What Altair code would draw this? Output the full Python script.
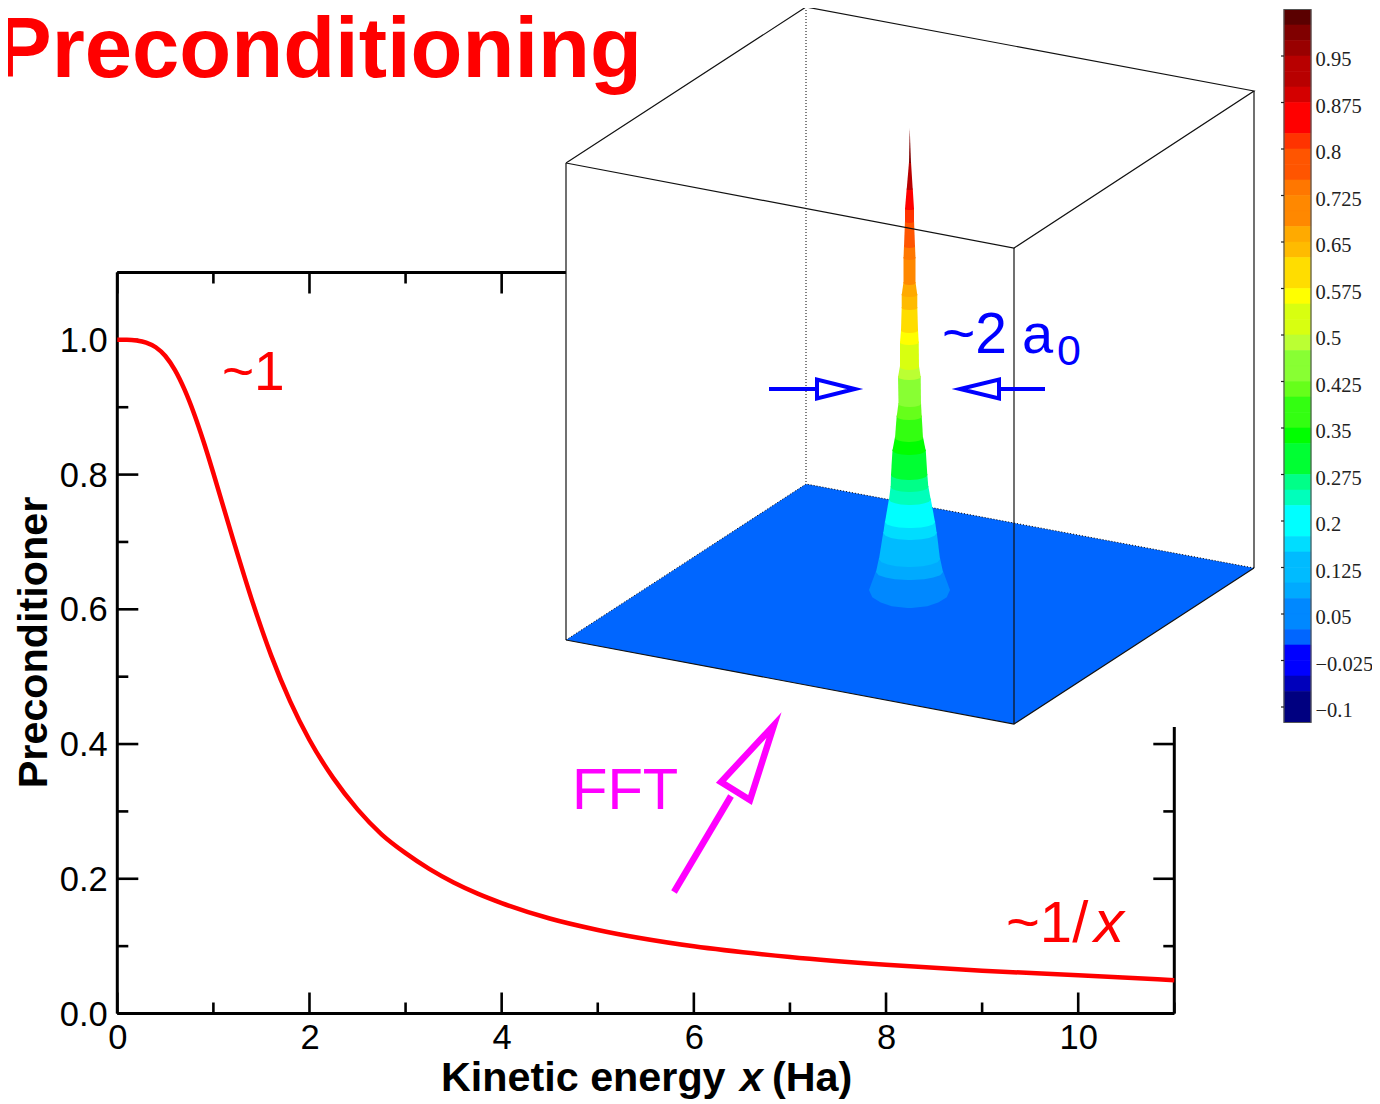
import altair as alt
import pandas as pd

FONT = "Liberation Sans"
SERIF = "Liberation Serif"

# main curve (kinetic energy, preconditioner)
CURVE_X = [0, .1, .2, .3, .4, .5, .6, .7, .8, .9, 1, 1.2, 1.4, 1.6, 1.8, 2, 2.25, 2.5, 2.75, 3, 3.25, 3.5, 3.75, 4, 4.5, 5, 6, 7, 8, 9, 10, 11]
CURVE_Y = [1, 1, .999, .996, .989, .976, .955, .926, .890, .848, .802, .706, .614, .532, .463, .406, .349, .303, .266, .238, .2143, .1945, .178, .164, .141, .124, .0997, .0838, .0723, .0635, .0567, .0495]
MAJOR_X = [0, 2, 4, 6, 8, 10]
MINOR_X = [1, 3, 5, 7, 9, 11]
MAJOR_Y = [0, .2, .4, .6, .8, 1.0]
MINOR_Y = [.1, .3, .5, .7, .9, 1.1]

# inset picture, in picture pixels
BOX_TOP = [(566, 163), (806, 7), (1254, 91), (1014, 248), (566, 163)]
BOX_EDGES = [[(566, 163), (566, 640)], [(1014, 248), (1014, 724)], [(1254, 91), (1254, 568)],
             [(566, 640), (1014, 724), (1254, 568)]]
BOX_BACK = [[(806, 7), (806, 484)], [(566, 640), (806, 484), (1254, 568)]]
FLOOR_ROWS = [(484, 806, 806), (568, 677, 1254), (640, 566, 1143), (724, 1014, 1014)]

PEAK_COLORS = ["#800000", "#b80000", "#ff0000", "#ff3300", "#ff5500", "#ff7700", "#ff8800", "#ffaa00", "#ffbb00",
               "#ffdd00", "#ffff00", "#d8ff10", "#bbff33", "#88ff33", "#66ff1a", "#33ff11", "#00ff00", "#00ff33",
               "#00ff88", "#00ffbb", "#00ffff", "#00ddff", "#00bbff", "#00aaff", "#0088ff"]
PEAK_Y = [163, 190, 210, 223, 248, 260, 285, 297, 310, 333, 345, 370, 380, 407, 420, 442, 455, 480, 492, 505, 528, 540, 567, 580, 608]
PEAK_L = [909, 906.7, 905, 905, 904, 903.5, 903.5, 901.7, 901.7, 901, 900, 900, 898, 898.5, 896.7, 895, 892.5, 891, 890.7, 889, 885, 883.3, 879, 876, 869]
PEAK_R = [911, 912.7, 914, 914, 915, 915.5, 915.5, 917.3, 917.3, 918, 918.7, 919, 920.7, 921, 921.7, 923, 925.7, 927.3, 928.3, 930.7, 935, 936.7, 940, 943, 950]
PEAK_DEPTH = [0, 0.5, 1, 1.5, 1.5, 2, 2, 2, 2, 2.5, 2.5, 3, 3, 3, 3.5, 4, 4.5, 5, 5, 5.5, 6, 7, 8, 8, 18]
PEAK_TIP = (128, 909.7)
BULGE_T = [.4, .7, .9, 1]
BULGE_W = [.92, .71, .44, .05]

# colour bar
CB_COLORS = ["#5a0000", "#800000", "#990000", "#b80000", "#b80000", "#d40000", "#ff0000", "#ff0000", "#ff3300",
             "#ff5500", "#ff5500", "#ff7700", "#ff8800", "#ff8800", "#ffaa00", "#ffbb00", "#ffdd00", "#ffdd00",
             "#ffff00", "#d8ff10", "#d8ff10", "#bbff33", "#88ff33", "#88ff33", "#66ff1a", "#33ff11", "#33ff11",
             "#00ff00", "#00ff33", "#00ff33", "#00ff88", "#00ffbb", "#00ffff", "#00ffff", "#00ddff", "#00bbff",
             "#00bbff", "#00aaff", "#0088ff", "#0088ff", "#0066ff", "#0000ff", "#0000ff", "#0000bb", "#000080", "#000080"]
CB_TOP = 1.025
CB_STEP = 0.025
CB_TICKS = [.95, .875, .8, .725, .65, .575, .5, .425, .35, .275, .2, .125, .05, -.025, -.1]
CB_LABELS = ["0.95", "0.875", "0.8", "0.725", "0.65", "0.575", "0.5", "0.425", "0.35", "0.275", "0.2", "0.125", "0.05", "\u22120.025", "\u22120.1"]

# arrows
ARROWS = [
    ("#0000ff", 4, [(769, 389), (817, 389)]),
    ("#0000ff", 4, [(817, 398.5), (817, 379.5), (855, 389), (817, 398.5), (817, 379.5)]),
    ("#0000ff", 4, [(1045, 389), (999, 389)]),
    ("#0000ff", 4, [(999, 398.5), (999, 379.5), (960, 389), (999, 398.5), (999, 379.5)]),
    ("#ff00ff", 6.5, [(674, 892), (731, 796)]),
    ("#ff00ff", 6.5, [(750, 800), (721, 782), (774, 725), (750, 800), (721, 782)]),
]

# texts: x, baseline y, text, size, colour, weight, style, angle, align
TEXTS = [
    (-5, 77, "Preconditioning", 85, "#ff0000", "bold", "normal", 0, "left"),
    (222, 390, "~1", 55, "#ff0000", "normal", "normal", 0, "left"),
    (1006, 942, "~1/", 58, "#ff0000", "normal", "normal", 0, "left"),
    (1094, 942, "x", 60, "#ff0000", "normal", "italic", 0, "left"),
    (572, 809, "FFT", 58, "#ff00ff", "normal", "normal", 0, "left"),
    (942, 353, "~2", 57, "#0000ff", "normal", "normal", 0, "left"),
    (1022, 353, "a", 56, "#0000ff", "normal", "normal", 0, "left"),
    (1057, 365, "0", 43, "#0000ff", "normal", "normal", 0, "left"),
    (441, 1091, "Kinetic energy", 41.3, "#000000", "bold", "normal", 0, "left"),
    (740, 1091, "x", 41.3, "#000000", "bold", "italic", 0, "left"),
    (772, 1091, "(Ha)", 41.3, "#000000", "bold", "normal", 0, "left"),
    (47, 642.5, "Preconditioner", 41.3, "#000000", "bold", "normal", 270, "center"),
]

# ---- scales
PLOT_W, PLOT_H = 1057, 741
sx = alt.Scale(domain=[0, 11], nice=False, zero=False)
sy = alt.Scale(domain=[0, 1.1], nice=False, zero=False)
px_x = alt.Scale(domain=[117.3, 1174.3], nice=False, zero=False)
px_y = alt.Scale(domain=[1013.5, 272.5], nice=False, zero=False)
cb_y = alt.Scale(domain=[0.95 - (1013.5 - 56) / 620, 0.95 + (56 - 272.5) / 620], nice=False, zero=False)

TICK_DX_MAJ, TICK_DX_MIN = 21 / 96.1, 11 / 96.1
TICK_DY_MAJ, TICK_DY_MIN = 21 / 673.6, 11 / 673.6

frame = pd.DataFrame([
    dict(x=0, x2=11, y=0, y2=0), dict(x=0, x2=11, y=1.1, y2=1.1),
    dict(x=0, x2=0, y=0, y2=1.1), dict(x=11, x2=11, y=0, y2=1.1)])
ticks = []
for v, L in [(v, TICK_DY_MAJ) for v in MAJOR_X] + [(v, TICK_DY_MIN) for v in MINOR_X]:
    ticks.append(dict(x=v, x2=v, y=0, y2=L))
    ticks.append(dict(x=v, x2=v, y=1.1, y2=1.1 - L))
for v, L in [(v, TICK_DX_MAJ) for v in MAJOR_Y] + [(v, TICK_DX_MIN) for v in MINOR_Y]:
    ticks.append(dict(x=0, x2=L, y=v, y2=v))
    ticks.append(dict(x=11, x2=11 - L, y=v, y2=v))
ticks = pd.DataFrame(ticks)

axis_chart = alt.Chart(frame).mark_rule(strokeWidth=3, color="#000000").encode(
    x=alt.X("x:Q", scale=sx, axis=alt.Axis(values=MAJOR_X, title=None, ticks=False, domain=False, grid=False, labelFont=FONT,
                                           labelFontSize=34.5, labelColor="#000000", labelPadding=8, labelOverlap=False,
                                           labelFlush=False, format="d")),
    x2="x2:Q",
    y=alt.Y("y:Q", scale=sy, axis=alt.Axis(values=MAJOR_Y, title=None, ticks=False, domain=False, grid=False, labelFont=FONT,
                                           labelFontSize=34.5, labelColor="#000000", labelPadding=10, labelOffset=1.5, format=".1f")),
    y2="y2:Q",
)
tick_chart = alt.Chart(ticks).mark_rule(strokeWidth=2.6, color="#000000").encode(
    x=alt.X("x:Q", scale=sx, axis=None), x2="x2:Q", y=alt.Y("y:Q", scale=sy, axis=None), y2="y2:Q")
curve_chart = alt.Chart(pd.DataFrame({"x": CURVE_X, "y": CURVE_Y})).mark_line(
    color="#ff0000", strokeWidth=4.5, interpolate="monotone", clip=False).encode(
    x=alt.X("x:Q", scale=sx, axis=None), y=alt.Y("y:Q", scale=sy, axis=None))

X = alt.X("x:Q", scale=px_x, axis=None)
Y = alt.Y("y:Q", scale=px_y, axis=None)


def polylines(segments, **mark):
    rows = []
    for s, seg in enumerate(segments):
        for i, (x, y) in enumerate(seg):
            rows.append(dict(seg=s, i=i, x=x, y=y))
    return alt.Chart(pd.DataFrame(rows)).mark_line(**mark).encode(
        x=X, y=Y, order="i:Q", detail="seg:N")


white = alt.Chart(pd.DataFrame([dict(x=566, x2=1257, y=0, y2=727)])).mark_rect(color="#ffffff").encode(
    x=X, x2="x2:Q", y=Y, y2="y2:Q")

back = polylines(BOX_BACK, color="#000000", strokeWidth=1, strokeDash=[1, 2])
floor = alt.Chart(pd.DataFrame(FLOOR_ROWS, columns=["y", "x", "x2"])).mark_area(
    orient="horizontal", color="#0066ff").encode(x=X, x2="x2:Q", y=Y)

peak_rows = []
prev_side, prev_l, prev_r = PEAK_TIP[0], PEAK_TIP[1], PEAK_TIP[1]
bands = []
for c, yb, l, r, d in zip(PEAK_COLORS, PEAK_Y, PEAK_L, PEAK_R, PEAK_DEPTH):
    mid, half = (l + r) / 2, (r - l) / 2
    rows = [(prev_side - 1 if prev_side > PEAK_TIP[0] else prev_side, prev_l, prev_r), (yb - d, l, r)]
    if d > 0:
        for t, w in zip(BULGE_T, BULGE_W):
            rows.append((yb - d + d * t, mid - half * w, mid + half * w))
    bands.append((c, rows))
    prev_side, prev_l, prev_r = yb - d, l, r
for c, rows in reversed(bands):
    for y, a, b in rows:
        peak_rows.append(dict(c=c, y=y, x=a, x2=b))
peak = alt.Chart(pd.DataFrame(peak_rows)).mark_area(orient="horizontal").encode(
    x=X, x2="x2:Q", y=Y, color=alt.Color("c:N", scale=None, legend=None))

edges = polylines(BOX_EDGES + [BOX_TOP], color="#111111", strokeWidth=1.2)

arrow_charts = [polylines([pts], color=c, strokeWidth=w, strokeJoin="miter", strokeCap="butt", strokeMiterLimit=12)
                for c, w, pts in ARROWS]

text_charts = []
for x, y, t, size, col, weight, style, angle, align in TEXTS:
    text_charts.append(
        alt.Chart(pd.DataFrame([dict(x=x, y=y, t=t)])).mark_text(
            font=FONT, fontSize=size, color=col, fontWeight=weight, fontStyle=style, angle=angle,
            align=align, baseline="alphabetic").encode(x=X, y=Y, text="t:N"))

# colour bar drawn through a value scale of its own
cb_rows = [dict(v=CB_TOP - CB_STEP * i, v2=CB_TOP - CB_STEP * (i + 1), c=c, x=1284, x2=1311) for i, c in enumerate(CB_COLORS)]
CBY = alt.Y("v:Q", scale=cb_y, axis=None)
cb_rect = alt.Chart(pd.DataFrame(cb_rows)).mark_rect(strokeWidth=0.6).encode(
    x=X, x2="x2:Q", y=CBY, y2="v2:Q", color=alt.Color("c:N", scale=None, legend=None),
    stroke=alt.Stroke("c:N", scale=None, legend=None))
cb_frame = alt.Chart(pd.DataFrame([dict(v=CB_TOP, v2=CB_TOP - CB_STEP * len(CB_COLORS), x=1284, x2=1311)])).mark_rect(
    fillOpacity=0, stroke="#555555", strokeWidth=1.2).encode(x=X, x2="x2:Q", y=CBY, y2="v2:Q")
cb_ticks = alt.Chart(pd.DataFrame([dict(v=v, x=1281, x2=1284) for v in CB_TICKS])).mark_rule(
    color="#222222", strokeWidth=1.2).encode(x=X, x2="x2:Q", y=CBY)
cb_text = alt.Chart(pd.DataFrame([dict(v=v, t=t, x=1315.5) for v, t in zip(CB_TICKS, CB_LABELS)])).mark_text(
    font=SERIF, fontSize=20.5, color="#222222", align="left", baseline="middle", dy=4).encode(x=X, y=CBY, text="t:N")

chart = alt.layer(
    axis_chart, tick_chart, curve_chart, white, floor, back, peak, edges,
    *arrow_charts, *text_charts, cb_rect, cb_frame, cb_ticks, cb_text,
).resolve_scale(x="independent", y="independent").properties(
    width=PLOT_W, height=PLOT_H,
    autosize=alt.AutoSizeParams(type="none"),
    padding={"left": 109.3, "top": 264.5, "right": 197.7, "bottom": 87},
    background="#ffffff",
).configure_view(stroke=None)

chart.save("out.html", embed_options={"renderer": "svg", "actions": False})
